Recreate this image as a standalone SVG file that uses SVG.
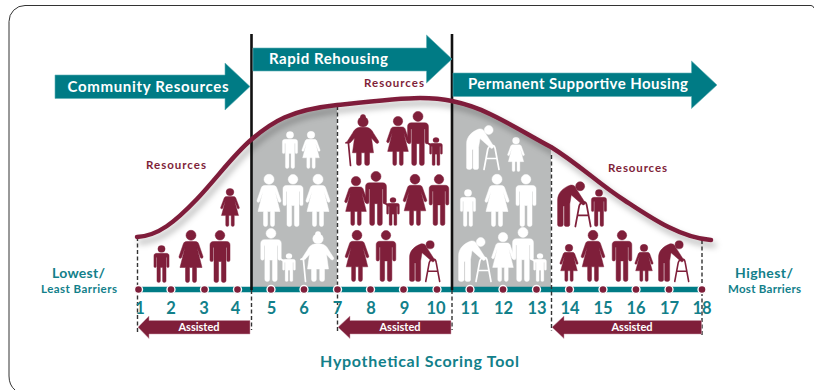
<svg xmlns="http://www.w3.org/2000/svg" width="814" height="390" viewBox="0 0 814 390">
<style>
text{font-family:"Lato","Open Sans","Liberation Sans",sans-serif;font-weight:700}
.t{fill:#fff;font-size:15px}
.r{fill:#7f1f3a;font-size:11.5px}
.l{fill:#12808a}
.n{fill:#12808a;font-size:16.5px;text-anchor:middle;font-weight:700}
.a{fill:#fff;font-size:11px;text-anchor:middle}
.ma{color:#7f1f3a}.wh{color:#fff}
.b{fill:currentColor;stroke:currentColor;stroke-width:.5;stroke-linejoin:round}
.fr{fill:none;stroke:currentColor;stroke-width:1.7;stroke-linecap:round;stroke-linejoin:round}
.arrow{fill:#007b85;stroke:#5fb0b6;stroke-width:.6}
.back{fill:#7f1f3a;stroke:#c89aa8;stroke-width:.5}
.dash{stroke:#333;stroke-width:1.4;stroke-dasharray:4 2.5;fill:none}
.solid{stroke:#111;stroke-width:2.6;fill:none}
.dot{fill:#7f1f3a;stroke:#fff;stroke-width:1.4}
.gray{fill:#b9bbbb}
</style>
<defs>
<filter id="sh" x="-5%" y="-10%" width="110%" height="130%"><feDropShadow dx="3" dy="5" stdDeviation="3" flood-color="#000" flood-opacity=".3"/></filter>
<g id="man" class="b"><circle cx="0" cy="-47.2" r="4.8"/><path d="M-6.5,-41H6.5C8.8,-41 10,-39.5 10,-37.5V-22.5a1.6,1.6 0 0 1 -3.2,0V-35H6V-2a2.3,2 0 0 1 -4.6,0V-21H-1.4V-2a2.3,2 0 0 1 -4.6,0V-35H-6.8V-22.5a1.6,1.6 0 0 1 -3.2,0V-37.5C-10,-39.5 -8.8,-41 -6.5,-41Z"/></g>
<g id="woman" class="b"><circle cx="0" cy="-47.2" r="5"/><path d="M-4.5,-41H4.5C6,-41 7,-40.2 7.6,-38.8L12,-26a1.4,1.4 0 0 1 -2.6,1L6,-35L11,-15H5.5V-2a2,2 0 0 1 -4,0V-15H-1.5V-2a2,2 0 0 1 -4,0V-15H-11L-6,-35L-9.4,-25a1.4,1.4 0 0 1 -2.6,-1L-7.6,-38.8C-7,-40.2 -6,-41 -4.5,-41Z"/></g>
<g id="kid"><use href="#man"/><path d="M-8,-38L-14,-42" fill="none" stroke="currentColor" stroke-width="3.2" stroke-linecap="round"/></g>
<g id="elder" class="b"><circle cx="0" cy="-49.5" r="2.6"/><circle cx="0" cy="-44.5" r="5.2"/><path d="M-3.5,-39H3.5C7,-38.5 9,-36 10.5,-33L15.5,-25Q16.5,-23 14.5,-22.5Q13,-22.5 12,-24L8.5,-28L10.5,-13H6.5V-2a2.4,2 0 0 1 -4.8,0V-13H-1.7V-2a2.4,2 0 0 1 -4.8,0V-13H-10.5L-8.5,-28L-12,-24Q-13,-22.5 -14.5,-22.5Q-16.5,-23 -15.5,-25L-10.5,-33C-9,-36 -7,-38.5 -3.5,-39Z"/><path class="fr" d="M-12.5,0L-14.5,-22Q-15.5,-24.5 -17,-23"/></g>
<g id="walker"><circle class="b" cx="22.7" cy="-39.5" r="4.4"/><path class="b" d="M.6,-26C.6,-33 6,-38 13,-40.5C16,-41 18,-39.5 18.5,-37.5L27.5,-23.5a1.8,1.8 0 0 1 -3,1.8L14,-31L12.5,-22V-1.5a2.7,1.5 0 0 1 -5.4,0V-20H6V-1.5a2.7,1.5 0 0 1 -5.4,0Z"/><path class="fr" d="M18,0L21.7,-20Q22.5,-24 27,-24Q28.8,-24 29.3,-20L33,0M20,-11H31"/></g>
</defs>
<rect width="814" height="390" fill="#fff"/>
<path id="frame" d="M814,8Q813,5.5 811,5.5H25A16,16 0 0 0 9,21.5V376Q9,385 15,390" fill="none" stroke="#333" stroke-width="1"/>

<g id="shaded-areas">
<path class="gray" d="M252,139C272,122 290,110 337,105V288H252Z"/>
<path class="gray" d="M452,101C466,104 478,108 490,114C515,126 530,136 551,147V288H452Z"/>
</g>

<g id="people-1-4" class="ma">
<use href="#man" transform="translate(161.5,282.5) scale(.76,.712)"/>
<use href="#woman" transform="translate(191,282.5)"/>
<use href="#man" transform="translate(220,282.5)"/>
<use href="#woman" transform="translate(230,226.5) scale(.78,.73)"/>
</g>
<g id="people-5-7" class="wh">
<use href="#man" transform="translate(290,168.5) scale(.76,.712)"/>
<use href="#woman" transform="translate(311,168.5) scale(.76,.712)"/>
<use href="#woman" transform="translate(269,226.5)"/>
<use href="#man" transform="translate(293,226.5)"/>
<use href="#woman" transform="translate(318,226.5)"/>
<use href="#man" transform="translate(271,281.5) scale(1.02)"/>
<use href="#kid" transform="translate(289,281.5) scale(.64,.54)"/>
<use href="#elder" transform="translate(318,281.5) scale(1,.96)"/>
</g>
<g id="people-8-10" class="ma">
<use href="#elder" transform="translate(363,165.5) scale(1,.98)"/>
<use href="#woman" transform="translate(398,165.5) scale(.94)"/>
<use href="#man" transform="translate(418,165.5) scale(1.04)"/>
<use href="#kid" transform="translate(436,165.5) scale(.64,.54)"/>
<use href="#woman" transform="translate(356,225.5) scale(.94)"/>
<use href="#man" transform="translate(376,225.5) scale(1.04)"/>
<use href="#kid" transform="translate(393,225.5) scale(.64,.54)"/>
<use href="#woman" transform="translate(415,225.5) scale(.98)"/>
<use href="#man" transform="translate(439,225.5) scale(.98)"/>
<use href="#woman" transform="translate(357,281.5) scale(.98)"/>
<use href="#man" transform="translate(386,281.5) scale(.98)"/>
<use href="#walker" transform="translate(409,281.5) scale(.93)"/>
</g>
<g id="people-11-13" class="wh">
<use href="#walker" transform="translate(466,169.5)"/>
<use href="#woman" transform="translate(516,171.5) scale(.7,.654)"/>
<use href="#man" transform="translate(468,226.5) scale(.76,.712)"/>
<use href="#woman" transform="translate(497,226.5)"/>
<use href="#man" transform="translate(526,226.5)"/>
<use href="#walker" transform="translate(458,281.5)"/>
<use href="#woman" transform="translate(503,281.5) scale(.94)"/>
<use href="#man" transform="translate(523,281.5) scale(1.04)"/>
<use href="#kid" transform="translate(540,281.5) scale(.64,.54)"/>
</g>
<g id="people-14-18" class="ma">
<use href="#walker" transform="translate(557,226.5) scale(1.02)"/>
<use href="#man" transform="translate(599,226.5) scale(.76,.712)"/>
<use href="#woman" transform="translate(569,281.5) scale(.76,.712)"/>
<use href="#woman" transform="translate(593,281.5) scale(.98)"/>
<use href="#man" transform="translate(622,281.5) scale(.98)"/>
<use href="#woman" transform="translate(644,281.5) scale(.76,.712)"/>
<use href="#walker" transform="translate(658,281.5) scale(.93)"/>
</g>

<g id="connectors">
<path id="axis" d="M138,289.5H702" stroke="#007b85" stroke-width="5.5" fill="none"/>
<path class="dash" d="M137.5,237V332M251.5,290V330M337.5,106V332M452,290V330M551.5,155V331M702,240V335"/>
<path class="solid" d="M251.5,34V290M452,34V290"/>
<path id="curve" filter="url(#sh)" d="M137,237C158,236 175,222 197,199C217,178 233,155 252,139C272,122 290,110 337,105C365,102 400,98 420,98C432,98 443,99 452,101C466,104 478,108 490,114C515,126 530,136 551,147C580,165 600,185 624,200C650,217 680,238 711,240" fill="none" stroke="#7f1f3a" stroke-width="4.5" stroke-linecap="round"/>
</g>

<g id="ticks">
<circle class="dot" cx="138.5" cy="289.5" r="4"/><circle class="dot" cx="171" cy="289.5" r="4"/><circle class="dot" cx="204.5" cy="289.5" r="4"/><circle class="dot" cx="237.5" cy="289.5" r="4"/><circle class="dot" cx="271" cy="289.5" r="4"/><circle class="dot" cx="304" cy="289.5" r="4"/><circle class="dot" cx="337.5" cy="289.5" r="4"/><circle class="dot" cx="370.5" cy="289.5" r="4"/><circle class="dot" cx="403.5" cy="289.5" r="4"/><circle class="dot" cx="437" cy="289.5" r="4"/><circle class="dot" cx="470" cy="289.5" r="4"/><circle class="dot" cx="503" cy="289.5" r="4"/><circle class="dot" cx="536.5" cy="289.5" r="4"/><circle class="dot" cx="569.5" cy="289.5" r="4"/><circle class="dot" cx="603" cy="289.5" r="4"/><circle class="dot" cx="636" cy="289.5" r="4"/><circle class="dot" cx="669" cy="289.5" r="4"/><circle class="dot" cx="702" cy="289.5" r="4"/>
</g>
<g id="numbers">
<text class="n" x="140" y="314">1</text><text class="n" x="171" y="314">2</text><text class="n" x="204" y="314">3</text><text class="n" x="235.5" y="314">4</text><text class="n" x="271.5" y="314">5</text><text class="n" x="304" y="314">6</text><text class="n" x="337.5" y="314">7</text><text class="n" x="371" y="314">8</text><text class="n" x="404.5" y="314">9</text><text class="n" x="436" y="314">10</text><text class="n" x="470" y="314">11</text><text class="n" x="503.5" y="314">12</text><text class="n" x="537" y="314">13</text><text class="n" x="570" y="314">14</text><text class="n" x="603" y="314">15</text><text class="n" x="636" y="314">16</text><text class="n" x="669.5" y="314">17</text><text class="n" x="702" y="314">18</text>
</g>

<g id="community-resources">
<path class="arrow" d="M55,75H225V63L250,86.5L225,110V98.5H55Z"/>
<text class="t" x="67.5" y="91.5" textLength="161" lengthAdjust="spacing">Community Resources</text>
</g>
<g id="rapid-rehousing">
<path class="arrow" d="M253,48H426.5V35L452,59L426.5,83V71H253Z"/>
<text class="t" x="269" y="64" textLength="119" lengthAdjust="spacing">Rapid Rehousing</text>
</g>
<g id="permanent-supportive-housing">
<path class="arrow" d="M453,73H691.5V61L717,85L691.5,108.5V96.5H453Z"/>
<text class="t" x="468" y="89" textLength="220" lengthAdjust="spacing">Permanent Supportive Housing</text>
</g>

<text class="r" x="146" y="168.5" textLength="60" lengthAdjust="spacing">Resources</text>
<text class="r" x="364" y="87" textLength="60" lengthAdjust="spacing">Resources</text>
<text class="r" x="608" y="171.5" textLength="59" lengthAdjust="spacing">Resources</text>

<g id="lowest-label">
<text class="l" x="52" y="278" font-size="14" textLength="53" lengthAdjust="spacing">Lowest/</text>
<text class="l" x="41" y="293" font-size="11.5" textLength="76" lengthAdjust="spacing">Least Barriers</text>
</g>
<g id="highest-label">
<text class="l" x="735" y="278" font-size="14" textLength="58" lengthAdjust="spacing">Highest/</text>
<text class="l" x="728" y="293" font-size="11.5" textLength="73" lengthAdjust="spacing">Most Barriers</text>
</g>

<g id="assisted-1"><path class="back" d="M250,320.5V334H149V338.5L138,327.2L149,316V320.5Z"/><text class="a" x="199" y="331">Assisted</text></g>
<g id="assisted-2"><path class="back" d="M451,320.5V334H350V338.5L338,327.2L350,316V320.5Z"/><text class="a" x="400" y="331">Assisted</text></g>
<g id="assisted-3"><path class="back" d="M701.5,320.5V334H564V338.5L552,327.2L564,316V320.5Z"/><text class="a" x="632" y="331">Assisted</text></g>

<text class="l" x="320" y="367" font-size="16" textLength="199" lengthAdjust="spacing">Hypothetical Scoring Tool</text>
</svg>
